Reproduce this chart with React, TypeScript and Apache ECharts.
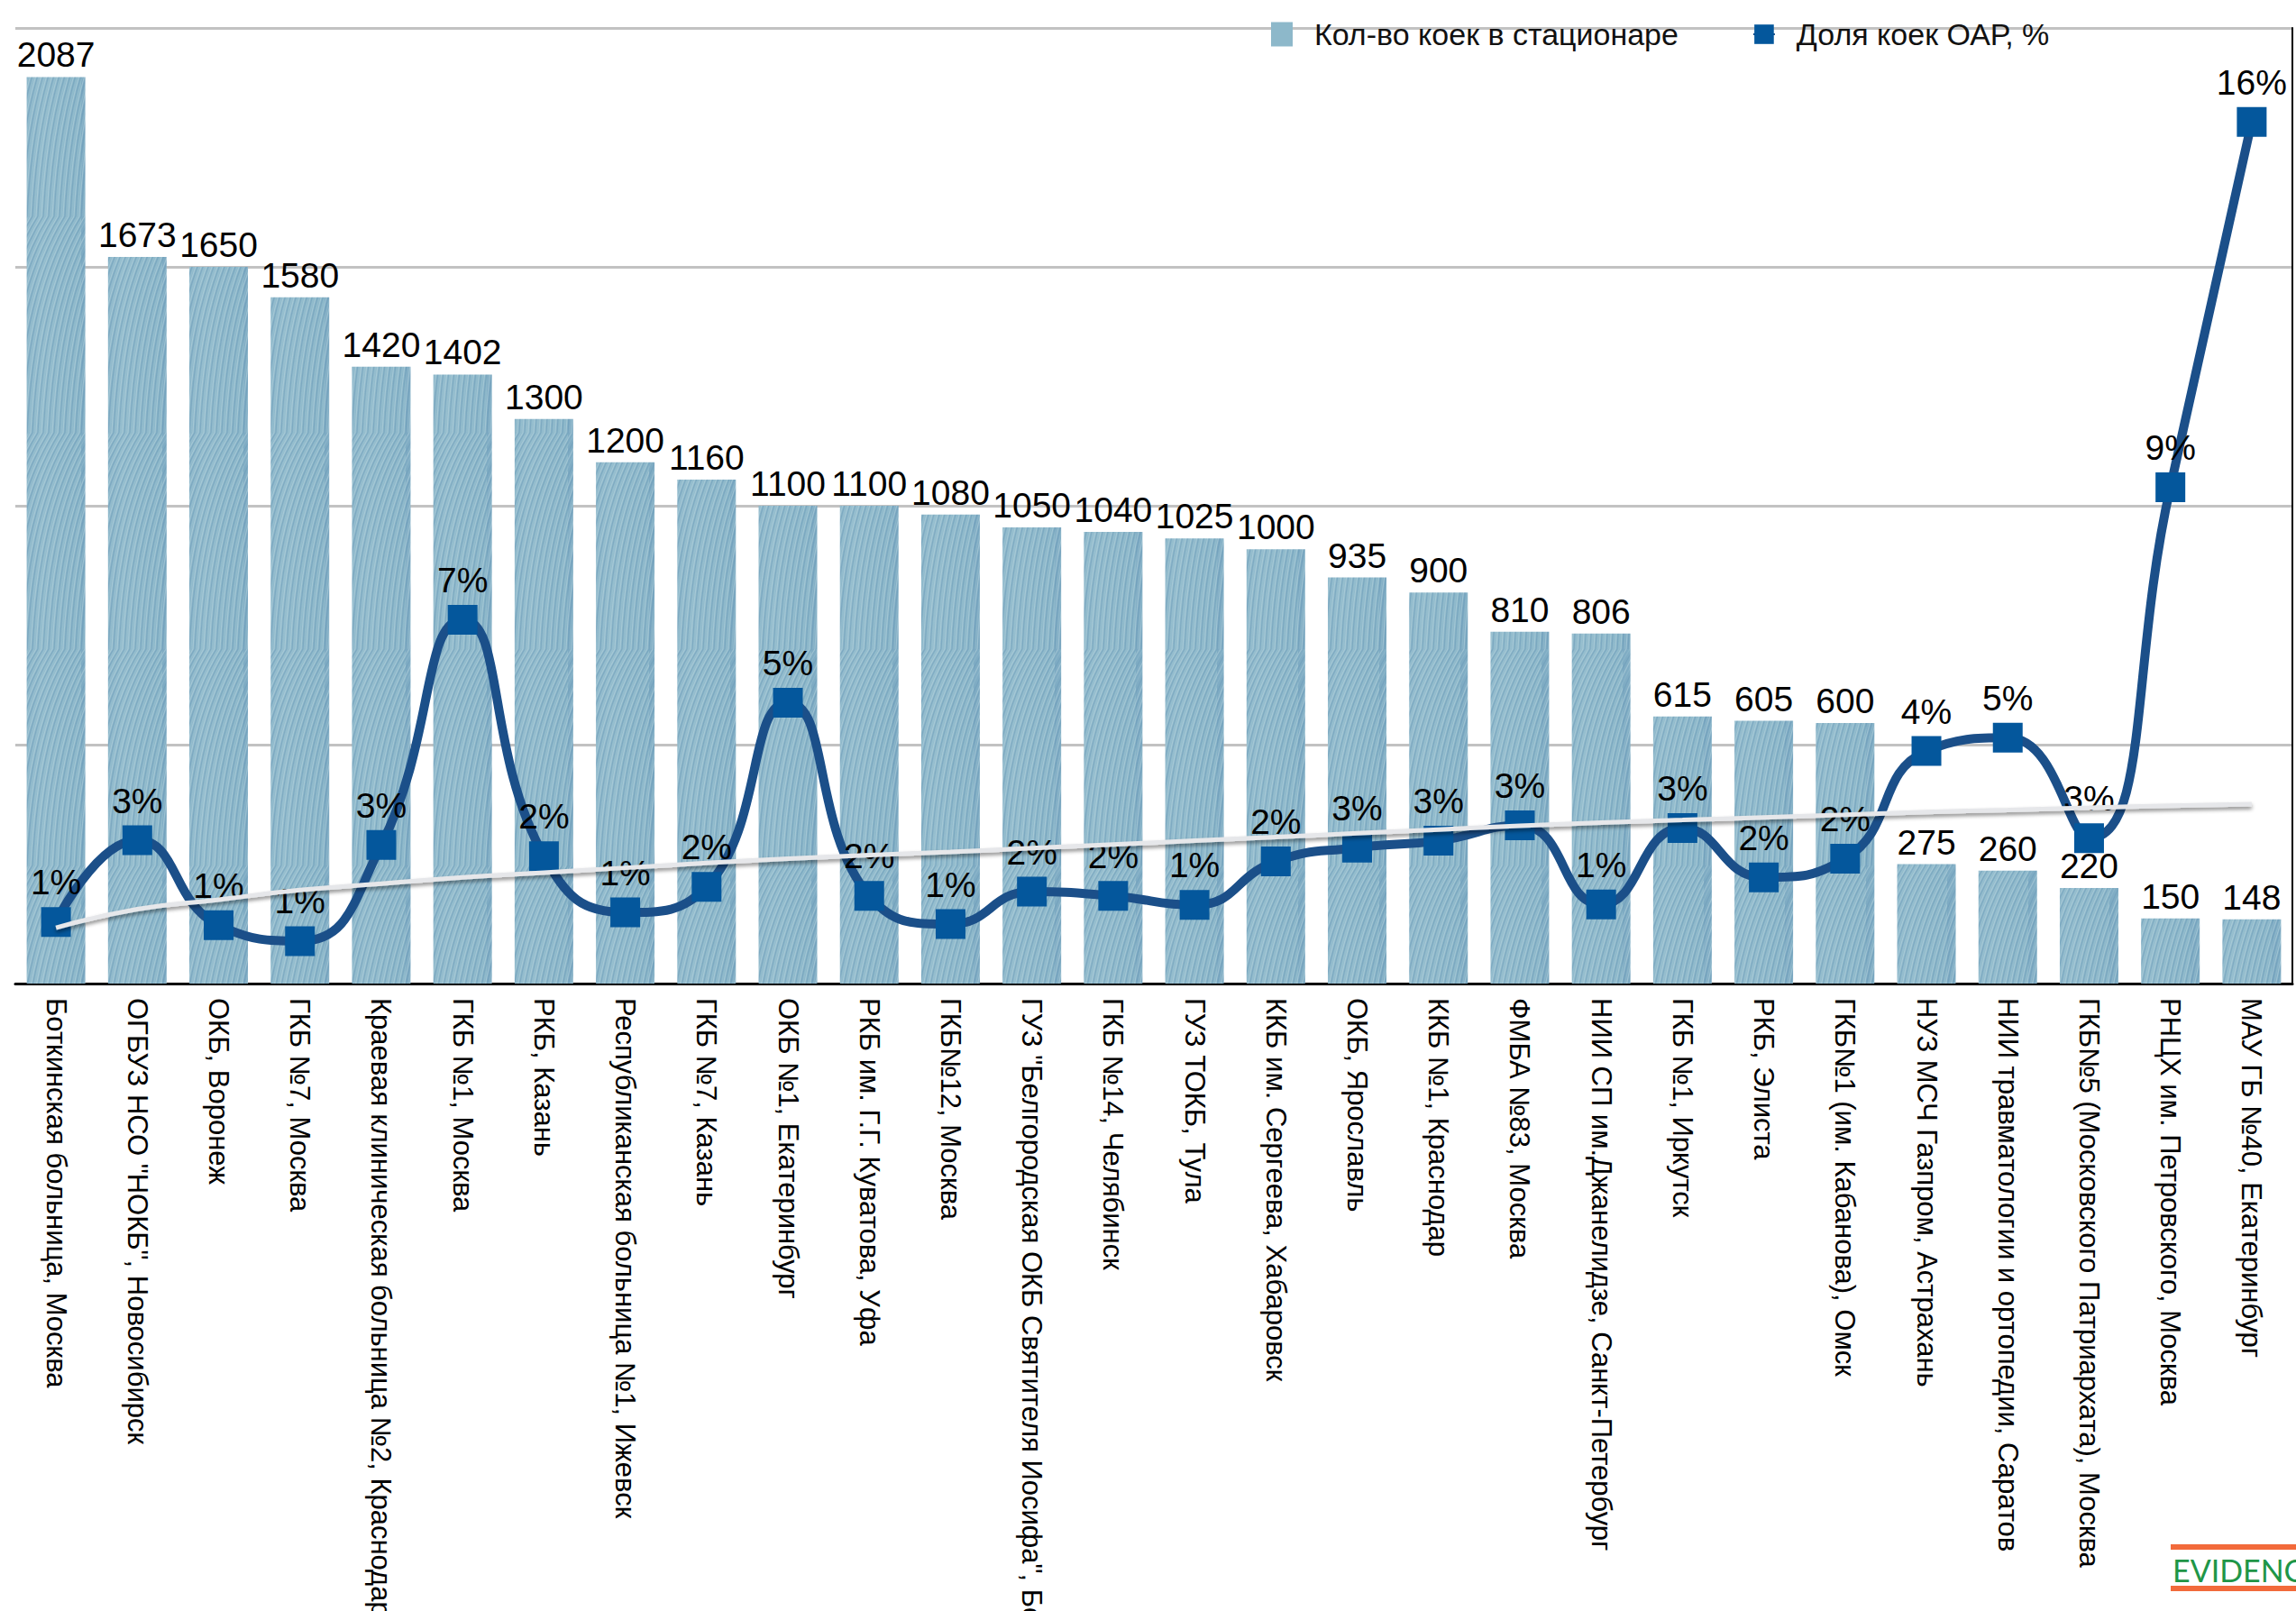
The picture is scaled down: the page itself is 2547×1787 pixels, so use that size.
import React, { useEffect, useRef } from 'react';
import * as echarts from 'echarts';

const categories: string[] = [
  'Боткинская больница, Москва',
  'ОГБУЗ НСО "НОКБ", Новосибирск',
  'ОКБ, Воронеж',
  'ГКБ №7, Москва',
  'Краевая клиническая больница №2, Краснодар',
  'ГКБ №1, Москва',
  'РКБ, Казань',
  'Республиканская больница №1, Ижевск',
  'ГКБ №7, Казань',
  'ОКБ №1, Екатеринбург',
  'РКБ им. Г.Г. Куватова, Уфа',
  'ГКБ№12, Москва',
  'ГУЗ "Белгородская ОКБ Святителя Иосифа", Белгород',
  'ГКБ №14, Челябинск',
  'ГУЗ ТОКБ, Тула',
  'ККБ им. Сергеева, Хабаровск',
  'ОКБ, Ярославль',
  'ККБ №1, Краснодар',
  'ФМБА №83, Москва',
  'НИИ СП им.Джанелидзе, Санкт-Петербург',
  'ГКБ №1, Иркутск',
  'РКБ, Элиста',
  'ГКБ№1 (им. Кабанова), Омск',
  'НУЗ МСЧ Газпром, Астрахань',
  'НИИ травматологии и ортопедии, Саратов',
  'ГКБ№5 (Московского Патриархата), Москва',
  'РНЦХ им. Петровского, Москва',
  'МАУ ГБ №40, Екатеринбург',
];

// Кол-во коек в стационаре
const beds: number[] = [
  2087, 1673, 1650, 1580, 1420, 1402, 1300, 1200, 1160, 1100, 1100, 1080, 1050, 1040,
  1025, 1000, 935, 900, 810, 806, 615, 605, 600, 275, 260, 220, 150, 148,
];

// Доля коек ОАР, % (labels are rounded)
const icuShare: number[] = [
  1.16, 2.7, 1.1, 0.8, 2.61, 6.85, 2.4, 1.34, 1.82, 5.29, 1.65, 1.12, 1.73, 1.65,
  1.48, 2.3, 2.56, 2.69, 2.98, 1.49, 2.93, 2.0, 2.35, 4.38, 4.63, 2.74, 9.35, 16.23,
];

// Trend line (grey) at each category
const trend: number[] = [
  1.05, 1.4, 1.58, 1.76, 1.88, 2.0, 2.09, 2.18, 2.27, 2.35, 2.42, 2.48, 2.55, 2.62,
  2.69, 2.76, 2.83, 2.9, 2.97, 3.03, 3.08, 3.13, 3.18, 3.23, 3.27, 3.31, 3.35, 3.38,
];

const barAxis = { min: 0, max: 2200, interval: 550 };
const pctAxis = { min: 0, max: 18 };

const SERIES_BAR = 'Кол-во коек в стационаре';
const SERIES_LINE = 'Доля коек ОАР, %';

const FONT = '"Liberation Sans", Arial, Helvetica, sans-serif';

// brushed-paint texture for the bars (style only)
function makeTexture(): { url: string; w: number; h: number } | null {
  try {
    const w = 90;
    const h = 240;
    const c = document.createElement('canvas');
    c.width = w;
    c.height = h;
    const g = c.getContext('2d');
    if (!g) return null;
    const base = g.createLinearGradient(0, 0, w, 0);
    base.addColorStop(0, '#7eabc3');
    base.addColorStop(0.5, '#93bccd');
    base.addColorStop(1, '#89b5c8');
    g.fillStyle = base;
    g.fillRect(0, 0, w, h);
    g.lineWidth = 1.2;
    for (let i = 0; i < 60; i++) {
      const x0 = -120 + i * 4;
      g.strokeStyle =
        i % 3 === 0 ? 'rgba(104,150,182,0.45)' : i % 3 === 1 ? 'rgba(186,214,224,0.5)' : 'rgba(160,198,212,0.35)';
      g.beginPath();
      g.moveTo(x0, h);
      g.quadraticCurveTo(x0 + 8, h * 0.35, x0 + 60, 0);
      g.stroke();
      g.beginPath();
      g.moveTo(x0 + w, h);
      g.quadraticCurveTo(x0 + w + 8, h * 0.35, x0 + w + 60, 0);
      g.stroke();
    }
    return { url: c.toDataURL(), w, h };
  } catch (e) {
    return null;
  }
}

export default function App() {
  const ref = useRef<HTMLDivElement>(null);

  useEffect(() => {
    if (!ref.current) return;
    const chart = echarts.init(ref.current, null, { renderer: 'svg' });

    const tex = makeTexture();
    const barColor: any = tex
      ? { image: tex.url, repeat: 'repeat', imageWidth: tex.w, imageHeight: tex.h }
      : new echarts.graphic.LinearGradient(0, 0, 1, 0, [
          { offset: 0, color: '#79a7c0' },
          { offset: 0.45, color: '#97c0cf' },
          { offset: 1, color: '#88b4c7' },
        ]);

    chart.setOption({
      animation: false,
      backgroundColor: '#ffffff',
      textStyle: { fontFamily: FONT },
      grid: {
        left: 17,
        top: 31,
        width: 2526,
        height: 1060,
        containLabel: false,
        outerBoundsMode: 'none',
      },
      legend: {
        data: [
          { name: SERIES_BAR, icon: 'rect', itemStyle: { color: '#8db8ca' } },
          { name: SERIES_LINE },
        ],
        left: 1405,
        top: 16,
        itemWidth: 24,
        itemHeight: 27,
        itemGap: 82,
        formatter: (n: string) => '  ' + n,
        textStyle: { fontSize: 34, color: '#111', fontFamily: FONT },
      },
      xAxis: {
        type: 'category',
        data: categories,
        axisLine: { show: true, lineStyle: { color: '#000', width: 3 } },
        axisTick: { show: false },
        axisLabel: {
          interval: 0,
          rotate: -90,
          margin: 16,
          fontSize: 31,
          color: '#000',
          fontFamily: FONT,
        },
      },
      yAxis: [
        {
          type: 'value',
          min: barAxis.min,
          max: barAxis.max,
          interval: barAxis.interval,
          axisLabel: { show: false },
          axisTick: { show: false },
          axisLine: { show: false },
          splitLine: { show: true, lineStyle: { color: '#c2c2c2', width: 3 } },
        },
        {
          type: 'value',
          position: 'right',
          min: pctAxis.min,
          max: pctAxis.max,
          axisLabel: { show: false },
          axisTick: { show: false },
          axisLine: { show: true, lineStyle: { color: '#000', width: 2 } },
          splitLine: { show: false },
        },
      ],
      series: [
        {
          name: SERIES_BAR,
          type: 'bar',
          data: beds,
          barWidth: 65,
          itemStyle: { color: barColor },
          label: {
            show: true,
            position: 'top',
            distance: 5,
            fontSize: 39,
            color: '#000',
            fontFamily: FONT,
          },
          z: 2,
        },
        {
          name: SERIES_LINE,
          type: 'line',
          yAxisIndex: 1,
          data: icuShare,
          smooth: 0.5,
          symbol: 'rect',
          symbolSize: 33,
          lineStyle: { color: '#1b4f89', width: 10 },
          itemStyle: { color: '#04579c' },
          label: {
            show: true,
            position: 'top',
            distance: 8,
            fontSize: 39,
            color: '#000',
            fontFamily: FONT,
            formatter: (p: any) => Math.round(p.value) + '%',
          },
          z: 3,
        },
        {
          name: 'trend',
          type: 'line',
          yAxisIndex: 1,
          data: trend,
          smooth: true,
          symbol: 'none',
          silent: true,
          lineStyle: {
            color: '#e6e7ea',
            width: 5,
            shadowColor: 'rgba(0,0,0,0.45)',
            shadowBlur: 4,
            shadowOffsetY: 3,
          },
          z: 4,
        },
      ],
      graphic: [
        {
          type: 'rect',
          shape: { x: 2408, y: 1713, width: 139, height: 6 },
          style: { fill: '#f26a3b' },
        },
        {
          type: 'rect',
          shape: { x: 2408, y: 1759, width: 139, height: 6 },
          style: { fill: '#f26a3b' },
        },
        {
          type: 'text',
          x: 2410,
          y: 1724,
          style: {
            text: 'EVIDENCE',
            fill: '#1f9647',
            font: '34px Lato, "Open Sans", sans-serif',
          },
        },
      ],
    });

    return () => chart.dispose();
  }, []);

  return (
    <div
      ref={ref}
      style={{ position: 'absolute', left: 0, top: 0, width: 2547, height: 1787, background: '#fff' }}
    />
  );
}
